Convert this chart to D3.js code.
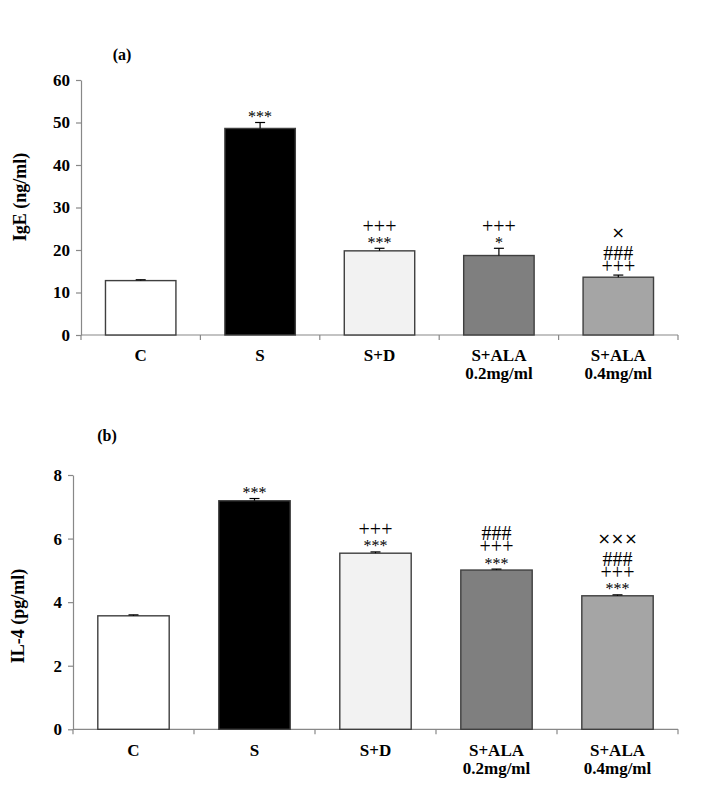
<!DOCTYPE html>
<html><head><meta charset="utf-8">
<script src="https://cdn.jsdelivr.net/npm/d3@7"></script>
<style>
body{margin:0;background:#fff;}
svg{display:block;font-family:"Liberation Serif","Times New Roman",serif;}
</style></head>
<body>
<svg id="chart" width="714" height="786"></svg>
<script>
// ---- data ----
const categories = ["C", "S", "S+D", "S+ALA|0.2mg/ml", "S+ALA|0.4mg/ml"];
const barColors = ["#ffffff", "#000000", "#f2f2f2", "#7f7f7f", "#a5a5a5"];

const igeValues = [12.8, 48.6, 19.8, 18.7, 13.6];
const igeErrors = [0.2, 1.4, 0.6, 1.7, 0.5];
const igeTicks = [0, 10, 20, 30, 40, 50, 60];
const igeMarks = [[], ["***"], ["***", "+++"], ["*", "+++"], ["+++", "###", "×"]];

const il4Values = [3.57, 7.19, 5.54, 5.01, 4.20];
const il4Errors = [0.03, 0.07, 0.04, 0.03, 0.03];
const il4Ticks = [0, 2, 4, 6, 8];
const il4Marks = [[], ["***"], ["***", "+++"], ["***", "+++", "###"], ["***", "+++", "###", "×××"]];

const svg = d3.select("#chart");

function panel(opt) {
  const g = svg.append("g");
  const x = d3.scaleBand().domain(categories).range([opt.x0, opt.x1])
    .paddingInner(0.41).paddingOuter(0.205);
  const y = d3.scaleLinear().domain([0, opt.ymax]).range([opt.y0, opt.yTop]);
  const axisColor = "#888888";

  // y axis
  const yAxis = g.append("g").attr("transform", `translate(${opt.x0},0)`)
    .call(d3.axisLeft(y).tickValues(opt.ticks).tickSize(5).tickSizeOuter(0).tickPadding(6));
  yAxis.select(".domain").attr("stroke", axisColor).attr("stroke-width", 1.2);
  yAxis.selectAll(".tick line").attr("stroke", axisColor).attr("stroke-width", 1.2);
  yAxis.selectAll(".tick text").attr("font-family", "Liberation Serif, serif")
    .attr("font-weight", "bold").attr("font-size", 17).attr("fill", "#000");

  // x axis line + boundary ticks
  const step = x.step();
  const bounds = d3.range(categories.length + 1).map(i => opt.x0 + i * step);
  g.append("line").attr("x1", opt.x0).attr("x2", opt.x1).attr("y1", opt.y0).attr("y2", opt.y0)
    .attr("stroke", axisColor).attr("stroke-width", 1.2);
  g.selectAll(".xt").data(bounds).enter().append("line")
    .attr("x1", d => d).attr("x2", d => d).attr("y1", opt.y0).attr("y2", opt.y0 + 5)
    .attr("stroke", axisColor).attr("stroke-width", 1.2);

  // x labels
  categories.forEach(c => {
    const lines = c.split("|");
    const t = g.append("text").attr("text-anchor", "middle").attr("font-weight", "bold")
      .attr("font-size", 17).attr("fill", "#000");
    lines.forEach((l, i) => {
      t.append("tspan").attr("x", x(c) + x.bandwidth() / 2)
        .attr("y", opt.labelY + i * 18).text(l);
    });
  });

  // bars
  g.selectAll(".bar").data(opt.values).enter().append("rect")
    .attr("x", (d, i) => x(categories[i]))
    .attr("y", d => y(d))
    .attr("width", x.bandwidth())
    .attr("height", d => opt.y0 - y(d))
    .attr("fill", (d, i) => barColors[i])
    .attr("stroke", "#3f3f3f").attr("stroke-width", 1.4);

  // error bars (upper only) + significance marks
  opt.values.forEach((v, i) => {
    const cx = x(categories[i]) + x.bandwidth() / 2;
    const top = y(v + opt.errors[i]);
    g.append("line").attr("x1", cx).attr("x2", cx).attr("y1", y(v)).attr("y2", top)
      .attr("stroke", "#000").attr("stroke-width", 1.2);
    g.append("line").attr("x1", cx - 5).attr("x2", cx + 5).attr("y1", top).attr("y2", top)
      .attr("stroke", "#000").attr("stroke-width", 1.2);
    if (!opt.marks[i].length) return;
    const t = g.append("text").attr("text-anchor", "middle").attr("fill", "#000");
    opt.marks[i].forEach((m, j) => {
      const isStar = m.indexOf("*") >= 0;
      const isX = m.indexOf("×") >= 0;
      const isHash = m.indexOf("#") >= 0;
      const center = top - 8 - j * 14 - (isX ? 6 : 0);
      t.append("tspan").attr("x", cx)
        .attr("y", center + (isStar ? 7.5 : isX ? 5 : isHash ? 6.8 : 6.3))
        .attr("font-size", isStar ? 16 : isX ? 16 : 20)
        .attr("font-family", isX ? "DejaVu Sans, sans-serif" : "Liberation Serif, serif")
        .text(m);
    });
  });

  // title & y label
  g.append("text").attr("x", opt.titleX).attr("y", opt.titleY).attr("font-weight", "bold")
    .attr("font-size", 16).attr("text-anchor", "middle").text(opt.title);
  g.append("text").attr("transform", `translate(${opt.ylabX},${opt.ylabY}) rotate(-90)`)
    .attr("text-anchor", "middle").attr("font-weight", "bold").attr("font-size", 18)
    .text(opt.ylabel);
}

panel({
  x0: 81, x1: 678, y0: 335, yTop: 80, ymax: 60, ticks: igeTicks,
  values: igeValues, errors: igeErrors, marks: igeMarks,
  labelY: 361, title: "(a)", titleX: 122, titleY: 60,
  ylabel: "IgE (ng/ml)", ylabX: 26, ylabY: 197
});
panel({
  x0: 73, x1: 678, y0: 729.3, yTop: 475, ymax: 8, ticks: il4Ticks,
  values: il4Values, errors: il4Errors, marks: il4Marks,
  labelY: 756, title: "(b)", titleX: 107, titleY: 441,
  ylabel: "IL-4 (pg/ml)", ylabX: 24, ylabY: 616
});
</script>
</body></html>
